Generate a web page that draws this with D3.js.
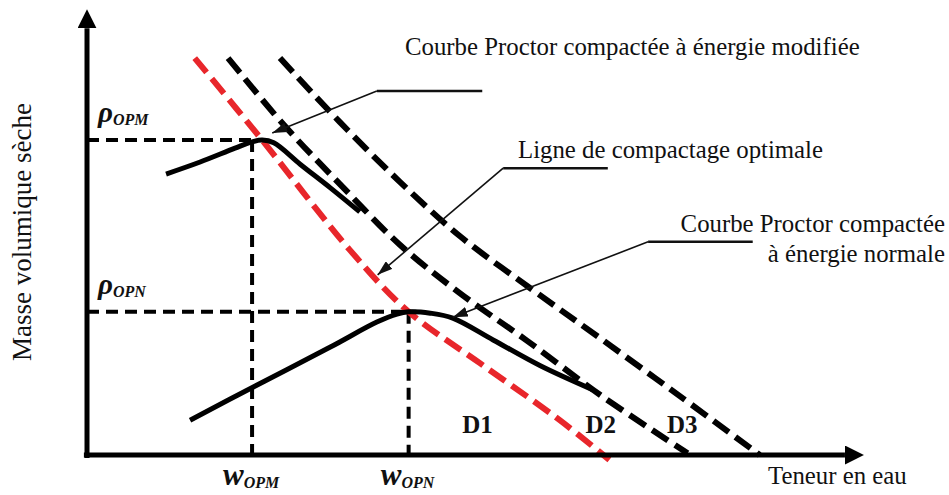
<!DOCTYPE html>
<html lang="fr">
<head>
<meta charset="UTF-8">
<title>Courbes Proctor</title>
<script src="https://d3js.org/d3.v7.min.js"></script>
<style>
  body { margin: 0; background: #fff; }
  text { font-family: "Liberation Serif", "Times New Roman", serif; fill: #111; }
  .lbl { font-size: 24.8px; }
  .dlab { font-size: 25px; font-weight: bold; }
  .math { font-weight: bold; font-style: italic; }
</style>
</head>
<body>
<svg id="chart" width="949" height="495"></svg>
<script>
// schematic values: [teneur en eau, masse volumique] on a 0-100 scale
var courbeModifiee = [[10.2, 63.0], [14.6, 65.7], [19.1, 68.8], [21.3, 70.2], [22.6, 70.6],
                      [24.1, 70.0], [27.5, 65.2], [31.4, 59.9], [35.2, 54.5]];
var courbeNormale = [[13.3, 7.8], [21.4, 15.2], [31.4, 24.2], [37.4, 29.8], [40.0, 31.6],
                     [41.5, 32.1], [44.3, 31.8], [47.2, 30.7], [52.4, 25.8], [58.5, 20.0], [65.3, 14.6]];
// ligne de compactage optimale (rouge)
var ligneOptimale = [[13.9, 89.0], [22.6, 70.6], [33.9, 46.0], [41.5, 32.1], [50.7, 20.6],
                     [61.0, 7.8], [67.4, -1.1]];
var ligneD2 = [[18.2, 89.0], [25.3, 74.2], [32.6, 60.8], [40.4, 47.1], [48.1, 36.3],
               [56.8, 25.6], [66.6, 13.0], [77.5, 0.4]];
var ligneD3 = [[24.9, 89.0], [32.6, 74.7], [40.4, 61.2], [48.1, 49.1], [57.2, 37.4],
               [66.2, 26.2], [76.5, 13.2], [86.8, 0]];

var optimums = [
  {w: 21.3, rho: 70.6, wLab: "OPM", rhoLab: "OPM"},
  {w: 41.5, rho: 32.1, wLab: "OPN", rhoLab: "OPN"}
];

// leaders: [bout horizontal, coude, pointe]
var renvois = [
  {pts: [[51.0, 81.6], [37.4, 81.6], [23.9, 72.2]]},
  {pts: [[67.2, 64.3], [53.7, 64.3], [37.5, 40.4]]},
  {pts: [[85.9, 47.8], [72.4, 47.8], [47.2, 30.9]]}
];

var dLabels = [
  {name: "D1", w: 50.4},
  {name: "D2", w: 66.3},
  {name: "D3", w: 76.8}
];

var svg = d3.select("#chart");

var x = d3.scaleLinear().domain([0, 100]).range([87, 862]);
var y = d3.scaleLinear().domain([0, 100]).range([455, 9]);

var defs = svg.append("defs");
defs.append("marker")
    .attr("id", "fleche")
    .attr("markerUnits", "userSpaceOnUse")
    .attr("markerWidth", 15).attr("markerHeight", 10)
    .attr("refX", 15).attr("refY", 5)
    .attr("orient", "auto")
  .append("path")
    .attr("d", "M0,0 L15,5 L0,10 Z")
    .attr("fill", "#111");
defs.append("marker")
    .attr("id", "axe")
    .attr("markerUnits", "userSpaceOnUse")
    .attr("markerWidth", 19).attr("markerHeight", 19)
    .attr("refX", 0).attr("refY", 9.5)
    .attr("orient", "auto")
  .append("path")
    .attr("d", "M0,0 L19,9.5 L0,19 Z")
    .attr("fill", "#000");

var line = d3.line()
    .x(function(d) { return x(d[0]); })
    .y(function(d) { return y(d[1]); })
    .curve(d3.curveCatmullRom.alpha(0.5));

// pointillés des optimums
optimums.forEach(function(o) {
    svg.append("line")
        .attr("x1", x(0)).attr("x2", x(o.w + 1))
        .attr("y1", y(o.rho)).attr("y2", y(o.rho))
        .attr("stroke", "#000").attr("stroke-width", 4)
        .attr("stroke-dasharray", "12,7");
    svg.append("line")
        .attr("x1", x(o.w)).attr("x2", x(o.w))
        .attr("y1", y(o.rho)).attr("y2", y(0))
        .attr("stroke", "#000").attr("stroke-width", 4)
        .attr("stroke-dasharray", "12,7");
});

// droites de saturation
[ligneD2, ligneD3].forEach(function(d) {
    svg.append("path")
        .datum(d)
        .attr("d", line)
        .attr("fill", "none")
        .attr("stroke", "#000")
        .attr("stroke-width", 6)
        .attr("stroke-dasharray", "19,8");
});

svg.append("path")
    .datum(ligneOptimale)
    .attr("d", line)
    .attr("fill", "none")
    .attr("stroke", "#e8262b")
    .attr("stroke-width", 6)
    .attr("stroke-dasharray", "19,8");

// courbes Proctor
[courbeModifiee, courbeNormale].forEach(function(d) {
    svg.append("path")
        .datum(d)
        .attr("d", line)
        .attr("fill", "none")
        .attr("stroke", "#000")
        .attr("stroke-width", 5)
        .attr("stroke-linejoin", "round");
});

// renvois
renvois.forEach(function(r) {
    var p = r.pts;
    svg.append("line")
        .attr("x1", x(p[0][0])).attr("y1", y(p[0][1]))
        .attr("x2", x(p[1][0])).attr("y2", y(p[1][1]))
        .attr("stroke", "#111").attr("stroke-width", 2.6);
    svg.append("line")
        .attr("x1", x(p[1][0])).attr("y1", y(p[1][1]))
        .attr("x2", x(p[2][0])).attr("y2", y(p[2][1]))
        .attr("stroke", "#111").attr("stroke-width", 1.6)
        .attr("marker-end", "url(#fleche)");
});

// axes
svg.append("line")
    .attr("x1", x(0)).attr("y1", y(-0.7))
    .attr("x2", x(0)).attr("y2", y(95.7))
    .attr("stroke", "#000").attr("stroke-width", 5)
    .attr("marker-end", "url(#axe)");
svg.append("line")
    .attr("x1", x(-0.4)).attr("y1", y(0))
    .attr("x2", x(97.8)).attr("y2", y(0))
    .attr("stroke", "#000").attr("stroke-width", 5)
    .attr("marker-end", "url(#axe)");

// textes
svg.append("text").attr("class", "lbl")
    .attr("x", 405).attr("y", 55)
    .text("Courbe Proctor compactée à énergie modifiée");
svg.append("text").attr("class", "lbl")
    .attr("x", 518).attr("y", 158)
    .text("Ligne de compactage optimale");
svg.append("text").attr("class", "lbl")
    .attr("x", 945).attr("y", 232).attr("text-anchor", "end")
    .text("Courbe Proctor compactée");
svg.append("text").attr("class", "lbl")
    .attr("x", 945).attr("y", 262).attr("text-anchor", "end")
    .text("à énergie normale");
svg.append("text").attr("class", "lbl")
    .attr("x", 768).attr("y", 484)
    .text("Teneur en eau");
svg.append("text")
    .style("font-size", "27px")
    .attr("transform", "translate(31," + y(50) + ") rotate(-90)")
    .attr("text-anchor", "middle")
    .text("Masse volumique sèche");

dLabels.forEach(function(d) {
    svg.append("text").attr("class", "dlab")
        .attr("x", x(d.w)).attr("y", 433)
        .attr("text-anchor", "middle")
        .text(d.name);
});

optimums.forEach(function(o) {
    var t = svg.append("text").attr("class", "math")
        .attr("x", 98).attr("y", y(o.rho) - 18);
    t.append("tspan").style("font-size", "29px").text("ρ");
    t.append("tspan").style("font-size", "16px").attr("dy", 3).text(o.rhoLab);

    var s = svg.append("text").attr("class", "math")
        .attr("x", x(o.w) - 1).attr("y", 485)
        .attr("text-anchor", "middle");
    s.append("tspan").style("font-size", "31px").text("w");
    s.append("tspan").style("font-size", "16px").attr("dy", 3).text(o.wLab);
});
</script>
</body>
</html>
